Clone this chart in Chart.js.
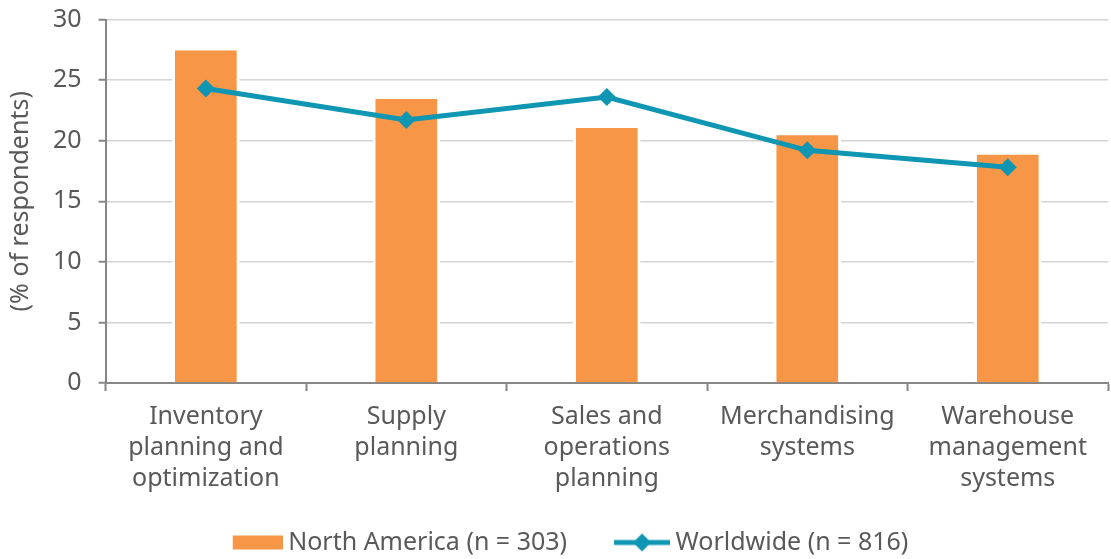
<!DOCTYPE html>
<html lang="en">
<head>
<meta charset="UTF-8" />
<title>Planning systems by region</title>
<script src="https://cdn.jsdelivr.net/npm/chart.js@4.4.1/dist/chart.umd.min.js"></script>
<style>
  body { margin: 0; background: #fff; }
</style>
</head>
<body>
<canvas id="chart1" width="1111" height="559"></canvas>
<script>
  const categories = [
    ['Inventory', 'planning and', 'optimization'],
    ['Supply', 'planning'],
    ['Sales and', 'operations', 'planning'],
    ['Merchandising', 'systems'],
    ['Warehouse', 'management', 'systems']
  ];
  const northAmerica = [27.5, 23.5, 21.1, 20.5, 18.9];
  const worldwide = [24.3, 21.7, 23.6, 19.2, 17.8];
  const yTicks = [0, 5, 10, 15, 20, 25, 30];

  const ORANGE = '#F79646';
  const TEAL = '#0E96B3';
  const TEXT = '#595959';
  const FONT = "'Noto Sans', sans-serif";

  // legend icons: canvas is 84 wide, icon sits on the right part so it hugs the text
  function barIcon() {
    const c = document.createElement('canvas');
    c.width = 84; c.height = 20;
    const g = c.getContext('2d');
    g.fillStyle = ORANGE;
    g.fillRect(34, 3, 50, 14);
    return c;
  }
  function lineIcon() {
    const c = document.createElement('canvas');
    c.width = 84; c.height = 20;
    const g = c.getContext('2d');
    g.strokeStyle = TEAL;
    g.lineWidth = 5;
    g.beginPath(); g.moveTo(28, 10); g.lineTo(84, 10); g.stroke();
    g.fillStyle = TEAL;
    g.beginPath(); g.moveTo(56, 1); g.lineTo(65, 10); g.lineTo(56, 19); g.lineTo(47, 10); g.closePath(); g.fill();
    return c;
  }
  const icons = [barIcon(), lineIcon()];

  const config = {
    type: 'bar',
    data: {
      labels: categories,
      datasets: [
        {
          type: 'line',
          label: 'Worldwide (n = 816)',
          data: worldwide,
          borderColor: TEAL,
          backgroundColor: TEAL,
          borderWidth: 5,
          pointStyle: 'rectRot',
          pointRadius: 9,
          pointHoverRadius: 9,
          pointBorderWidth: 0,
          order: 0
        },
        {
          type: 'bar',
          label: 'North America (n = 303)',
          data: northAmerica,
          backgroundColor: ORANGE,
          borderColor: '#ffffff',
          borderWidth: { left: 3, right: 3, top: 1, bottom: 0 },
          borderSkipped: 'bottom',
          barThickness: 67,
          order: 1
        }
      ]
    },
    options: {
      responsive: false,
      animation: false,
      layout: { autoPadding: false, padding: { left: 6, right: 3, top: 19, bottom: -6 } },
      plugins: {
        tooltip: { enabled: false },
        legend: {
          position: 'bottom',
          labels: {
            usePointStyle: true,
            pointStyleWidth: 70,
            padding: 26,
            color: TEXT,
            font: { family: FONT, size: 25 },
            sort: (a, b) => b.datasetIndex - a.datasetIndex,
            generateLabels(chart) {
              const items = Chart.defaults.plugins.legend.labels.generateLabels(chart);
              items.forEach(it => { it.pointStyle = icons[it.datasetIndex === 1 ? 0 : 1]; });
              return items;
            }
          }
        }
      },
      scales: {
        x: {
          offset: true,
          grid: {
            offset: true,
            drawOnChartArea: false,
            drawTicks: true,
            tickLength: 8,
            tickColor: '#868686',
            tickWidth: 2
          },
          border: { color: '#868686', width: 2 },
          ticks: {
            color: TEXT,
            font: { family: FONT, size: 25, lineHeight: 1.24 },
            maxRotation: 0,
            padding: 10
          }
        },
        y: {
          min: 0,
          max: 30,
          afterBuildTicks(axis) { axis.ticks = yTicks.map(v => ({ value: v })); },
          grid: {
            color: '#d4d4d4',
            lineWidth: 1.5,
            drawTicks: true,
            tickLength: 7,
            tickColor: '#868686',
            tickWidth: 2
          },
          border: { color: '#868686', width: 2 },
          ticks: {
            color: TEXT,
            font: { family: FONT, size: 25, lineHeight: 0.2 },
            padding: 17
          },
          title: {
            display: true,
            text: '(% of respondents)',
            color: TEXT,
            font: { family: FONT, size: 25 },
            padding: { top: 0, bottom: 0 }
          }
        }
      }
    }
  };

  new Chart(document.getElementById('chart1'), config);
</script>
</body>
</html>
